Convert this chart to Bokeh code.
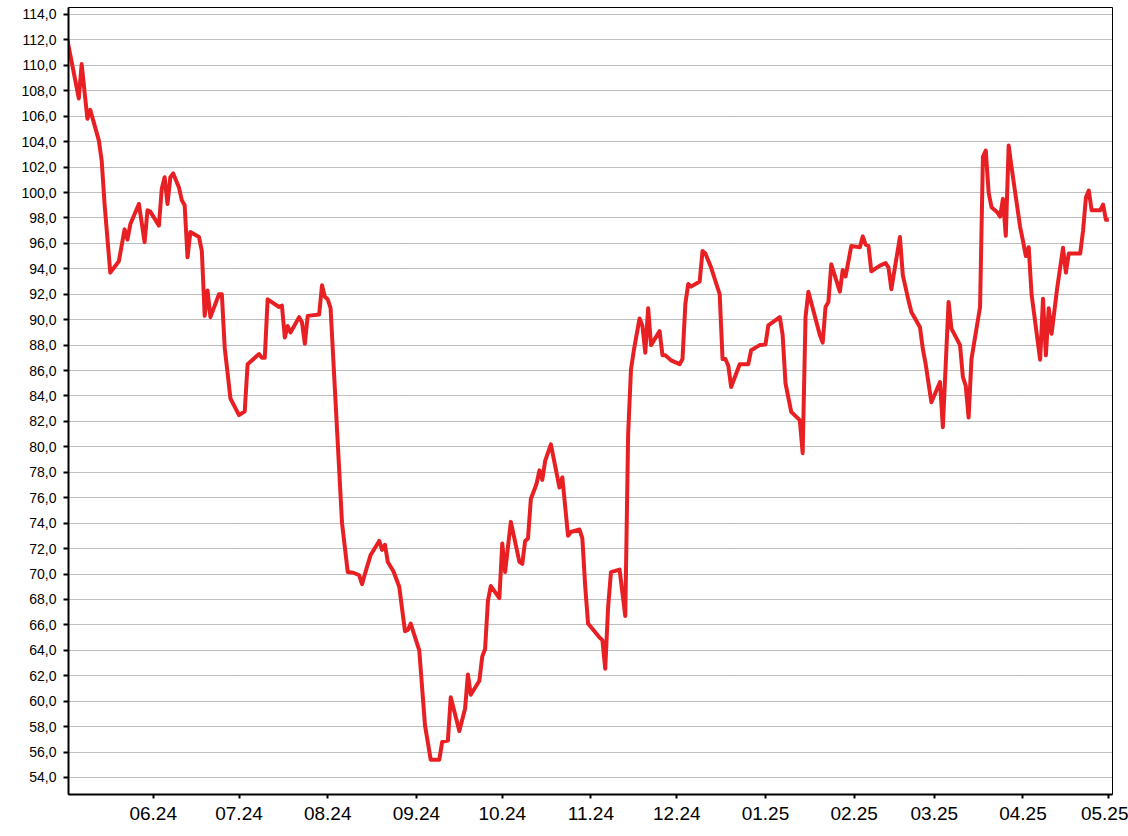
from datetime import datetime
import pandas as pd
from bokeh.plotting import figure
from bokeh.models import (Range1d, FixedTicker, MonthsTicker, DatetimeTickFormatter,
                          CustomJSTickFormatter, ColumnDataSource)
from bokeh.embed import file_html
from bokeh.resources import INLINE

dates = [
    "2024-05-02", "2024-05-06", "2024-05-07", "2024-05-09", "2024-05-10", "2024-05-13",
    "2024-05-14", "2024-05-15", "2024-05-17", "2024-05-20", "2024-05-22", "2024-05-23",
    "2024-05-24", "2024-05-27", "2024-05-29", "2024-05-30", "2024-05-31", "2024-06-03",
    "2024-06-04", "2024-06-05", "2024-06-06", "2024-06-07", "2024-06-08", "2024-06-10",
    "2024-06-11", "2024-06-12", "2024-06-13", "2024-06-14", "2024-06-17", "2024-06-18",
    "2024-06-19", "2024-06-20", "2024-06-21", "2024-06-24", "2024-06-25", "2024-06-26",
    "2024-06-28", "2024-07-01", "2024-07-03", "2024-07-04", "2024-07-08", "2024-07-09",
    "2024-07-10", "2024-07-11", "2024-07-15", "2024-07-16", "2024-07-17", "2024-07-18",
    "2024-07-19", "2024-07-22", "2024-07-23", "2024-07-24", "2024-07-25", "2024-07-29",
    "2024-07-30", "2024-07-31", "2024-08-01", "2024-08-02", "2024-08-06", "2024-08-08",
    "2024-08-10", "2024-08-12", "2024-08-13", "2024-08-14", "2024-08-16", "2024-08-19",
    "2024-08-20", "2024-08-21", "2024-08-22", "2024-08-24", "2024-08-26", "2024-08-28",
    "2024-08-29", "2024-08-30", "2024-09-02", "2024-09-04", "2024-09-06", "2024-09-09",
    "2024-09-10", "2024-09-12", "2024-09-13", "2024-09-16", "2024-09-18", "2024-09-19",
    "2024-09-20", "2024-09-23", "2024-09-24", "2024-09-25", "2024-09-26", "2024-09-27",
    "2024-09-30", "2024-10-01", "2024-10-02", "2024-10-04", "2024-10-07", "2024-10-08",
    "2024-10-09", "2024-10-10", "2024-10-11", "2024-10-13", "2024-10-14", "2024-10-15",
    "2024-10-16", "2024-10-18", "2024-10-21", "2024-10-22", "2024-10-24", "2024-10-25",
    "2024-10-28", "2024-10-29", "2024-10-30", "2024-10-31", "2024-11-04", "2024-11-05",
    "2024-11-06", "2024-11-07", "2024-11-08", "2024-11-11", "2024-11-13", "2024-11-14",
    "2024-11-15", "2024-11-16", "2024-11-18", "2024-11-19", "2024-11-20", "2024-11-21",
    "2024-11-22", "2024-11-25", "2024-11-26", "2024-11-27", "2024-11-29", "2024-12-02",
    "2024-12-03", "2024-12-04", "2024-12-05", "2024-12-06", "2024-12-09", "2024-12-10",
    "2024-12-11", "2024-12-13", "2024-12-16", "2024-12-17", "2024-12-18", "2024-12-19",
    "2024-12-20", "2024-12-23", "2024-12-26", "2024-12-27", "2024-12-30", "2025-01-01",
    "2025-01-02", "2025-01-06", "2025-01-07", "2025-01-08", "2025-01-10", "2025-01-13",
    "2025-01-14", "2025-01-15", "2025-01-16", "2025-01-20", "2025-01-21", "2025-01-22",
    "2025-01-23", "2025-01-24", "2025-01-27", "2025-01-28", "2025-01-29", "2025-01-31",
    "2025-02-03", "2025-02-04", "2025-02-05", "2025-02-06", "2025-02-07", "2025-02-10",
    "2025-02-12", "2025-02-13", "2025-02-14", "2025-02-17", "2025-02-18", "2025-02-20",
    "2025-02-21", "2025-02-24", "2025-02-25", "2025-02-26", "2025-02-28", "2025-03-03",
    "2025-03-04", "2025-03-06", "2025-03-07", "2025-03-10", "2025-03-11", "2025-03-12",
    "2025-03-13", "2025-03-14", "2025-03-17", "2025-03-18", "2025-03-19", "2025-03-20",
    "2025-03-21", "2025-03-23", "2025-03-24", "2025-03-25", "2025-03-26", "2025-03-27",
    "2025-03-28", "2025-03-31", "2025-04-01", "2025-04-02", "2025-04-03", "2025-04-04",
    "2025-04-07", "2025-04-08", "2025-04-09", "2025-04-10", "2025-04-11", "2025-04-13",
    "2025-04-15", "2025-04-16", "2025-04-17", "2025-04-21", "2025-04-22", "2025-04-23",
    "2025-04-24", "2025-04-25", "2025-04-28", "2025-04-29", "2025-04-30", "2025-05-01",
]

values = [
    112.0, 107.4, 110.1, 105.8, 106.5, 104.1,
    102.5, 99.1, 93.7, 94.6, 97.1, 96.3,
    97.5, 99.1, 96.1, 98.6, 98.5, 97.4,
    100.3, 101.2, 99.1, 101.2, 101.5, 100.4,
    99.4, 99.0, 94.9, 96.9, 96.5, 95.4,
    90.3, 92.3, 90.2, 92.0, 92.0, 87.8,
    83.8, 82.5, 82.8, 86.5, 87.3, 87.0,
    87.0, 91.6, 91.0, 91.1, 88.6, 89.5,
    89.0, 90.2, 89.8, 88.1, 90.3, 90.4,
    92.7, 91.8, 91.6, 90.9, 74.0, 70.15,
    70.1, 69.9, 69.2, 70.0, 71.5, 72.6,
    71.9, 72.3, 70.95, 70.2, 69.0, 65.5,
    65.6, 66.1, 64.0, 58.1, 55.4, 55.4,
    56.8, 56.9, 60.3, 57.65, 59.4, 62.1,
    60.5, 61.6, 63.5, 64.1, 67.9, 69.05,
    68.1, 72.4, 70.15, 74.1, 70.95, 70.8,
    72.6, 72.8, 75.9, 77.1, 78.15, 77.4,
    78.9, 80.2, 76.8, 77.6, 73.0, 73.3,
    73.5, 72.8, 69.0, 66.1, 65.0, 64.8,
    62.55, 67.4, 70.15, 70.35, 66.7, 81.0,
    86.1, 87.6, 90.1, 89.5, 87.4, 90.9,
    88.0, 89.1, 87.2, 87.2, 86.8, 86.5,
    86.9, 91.25, 92.8, 92.6, 93.0, 95.4,
    95.2, 94.1, 92.0, 86.9, 86.9, 86.4,
    84.7, 86.5, 86.5, 87.6, 88.0, 88.05,
    89.55, 90.2, 88.8, 85.0, 82.75, 82.1,
    79.5, 90.2, 92.2, 88.8, 88.2, 91.0,
    91.4, 94.35, 92.2, 93.9, 93.4, 95.8,
    95.7, 96.55, 95.9, 95.8, 93.8, 94.25,
    94.45, 94.1, 92.4, 96.5, 93.5, 91.5,
    90.6, 89.4, 87.7, 86.5, 83.5, 85.1,
    81.55, 91.4, 89.3, 88.0, 85.5, 84.8,
    82.3, 86.9, 91.0, 102.8, 103.3, 100.0,
    98.85, 98.45, 98.1, 99.5, 96.6, 103.7,
    102.0, 97.3, 96.2, 95.0, 95.7, 92.0,
    86.85, 91.65, 87.2, 90.9, 88.9, 92.55,
    95.65, 93.7, 95.2, 95.2, 97.0, 99.6,
    100.15, 98.6, 98.6, 99.05, 97.85, 97.85,
]

y_ticks = list(range(54, 116, 2))

src = ColumnDataSource(dict(date=pd.to_datetime(dates), value=values))

p = figure(width=1128, height=836, output_backend="svg", toolbar_location=None,
           x_axis_type="datetime",
           x_range=Range1d(datetime(2024, 5, 2, 9, 36), datetime(2025, 5, 2, 7, 0)),
           y_range=Range1d(52.66, 114.55),
           min_border_left=68, min_border_right=16, min_border_top=7, min_border_bottom=42,
           background_fill_color="white", border_fill_color="white")

p.line("date", "value", source=src, line_color="#E82024", line_width=4, line_join="round")

# Y axis
p.yaxis.ticker = FixedTicker(ticks=y_ticks)
p.yaxis.formatter = CustomJSTickFormatter(code="return tick.toFixed(1).replace('.', ',');")
p.yaxis.major_label_text_font = "Liberation Sans"
p.yaxis.major_label_text_font_size = "14px"
p.yaxis.major_label_text_color = "black"
p.yaxis.major_tick_out = 5
p.yaxis.major_tick_in = 0
p.yaxis.minor_tick_out = 0
p.yaxis.minor_tick_in = 0
p.yaxis.major_label_standoff = 7
p.yaxis.axis_line_width = 2
p.yaxis.axis_line_color = "black"
p.yaxis.major_tick_line_width = 2
p.yaxis.major_tick_line_color = "black"

# X axis
p.xaxis.ticker = MonthsTicker(months=list(range(12)))
p.xaxis.formatter = DatetimeTickFormatter(months="%m.%y", days="%m.%y", years="%m.%y")
p.xaxis.major_label_text_font = "Liberation Sans"
p.xaxis.major_label_text_font_size = "19px"
p.xaxis.major_label_text_color = "black"
p.xaxis.major_tick_out = 4
p.xaxis.major_tick_in = 0
p.xaxis.minor_tick_out = 0
p.xaxis.minor_tick_in = 0
p.xaxis.major_label_standoff = 8
p.xaxis.axis_line_width = 2
p.xaxis.axis_line_color = "black"
p.xaxis.major_tick_line_width = 2
p.xaxis.major_tick_line_color = "black"

# Grid
p.xgrid.visible = False
p.ygrid.grid_line_color = "#7a7a7a"
p.ygrid.grid_line_dash = "1 1"
p.ygrid.grid_line_width = 1

p.outline_line_color = "black"
p.outline_line_width = 1
p.outline_line_alpha = 1

open("out.html", "w").write(file_html(p, INLINE))
